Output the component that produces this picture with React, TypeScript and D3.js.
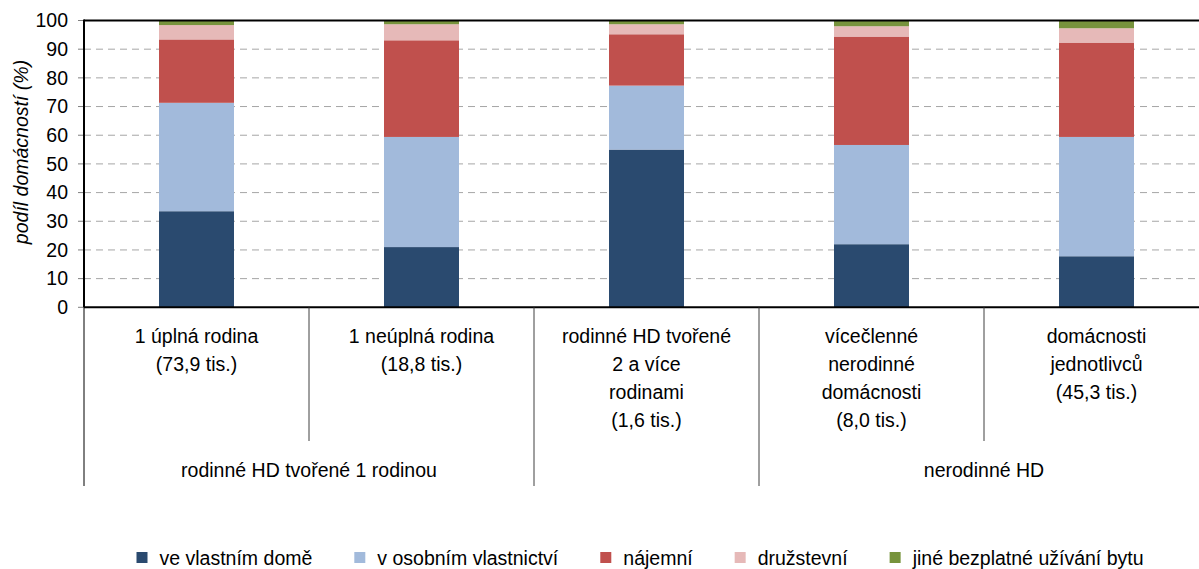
import { useMemo } from "react";
import * as d3 from "d3";

// kategorie domácností (řádky popisku pod osou)
const categories = ["c1", "c2", "c3", "c4", "c5"];
const categoryLabels = [
    ["1 úplná rodina", "(73,9 tis.)"],
    ["1 neúplná rodina", "(18,8 tis.)"],
    ["rodinné HD tvořené", "2 a více", "rodinami", "(1,6 tis.)"],
    ["vícečlenné", "nerodinné", "domácnosti", "(8,0 tis.)"],
    ["domácnosti", "jednotlivců", "(45,3 tis.)"],
];
const groupLabels = ["rodinné HD tvořené 1 rodinou", "", "nerodinné HD"];
const groupMembers = [[0, 1], [2], [3, 4]];

const seriesNames = [
    "ve vlastním domě",
    "v osobním vlastnictví",
    "nájemní",
    "družstevní",
    "jiné bezplatné užívání bytu",
];
const vlastniDum = [33.5, 21.0, 55.0, 22.0, 17.8];
const osobniVlastnictvi = [37.8, 38.4, 22.3, 34.6, 41.6];
const najemni = [22.1, 33.7, 17.9, 37.8, 32.9];
const druzstevni = [5.0, 5.6, 3.5, 3.6, 5.0];
const jine = [1.6, 1.3, 1.3, 2.0, 2.7];

const yTickValues = [0, 10, 20, 30, 40, 50, 60, 70, 80, 90, 100];

const colors = ["#2A4A6F", "#A2BADB", "#C0504D", "#E6B9B8", "#77933C"];
const FONT = "'Liberation Sans', Arial, sans-serif";
const FS = 19.5;

function measure(text, size) {
    const ctx = document.createElement("canvas").getContext("2d");
    ctx.font = `${size}px "Liberation Sans", Arial, sans-serif`;
    return ctx.measureText(text).width;
}

export default function App() {
    const width = 1199;
    const height = 569;

    const left = 84;
    const right = 1209;
    const top = 20.5;
    const bottom = 307.3;

    const rows = categories.map((c, i) => ({
        cat: c,
        s0: vlastniDum[i],
        s1: osobniVlastnictvi[i],
        s2: najemni[i],
        s3: druzstevni[i],
        s4: jine[i],
    }));

    const xScale = useMemo(
        () => d3.scaleBand().domain(categories).range([left, right]).padding(0),
        []
    );
    const yScale = useMemo(() => d3.scaleLinear().domain([0, 100]).range([bottom, top]), []);
    const stacked = useMemo(() => d3.stack().keys(["s0", "s1", "s2", "s3", "s4"])(rows), []);

    const barW = xScale.bandwidth() / 3;

    // legenda – rozložení podle šířky textu
    const legend = useMemo(() => {
        const items = [];
        let x = 136.5;
        seriesNames.forEach((name, i) => {
            items.push({ name, x, color: colors[i] });
            x += 11 + 12 + measure(name, FS) + 42;
        });
        return items;
    }, []);

    // svislé oddělovače pod osou x
    const separators = [];
    groupMembers.forEach((members) => {
        const first = members[0];
        separators.push({ x: xScale(categories[first]), long: true });
        members.slice(1).forEach((m) => separators.push({ x: xScale(categories[m]), long: false }));
    });
    separators.push({ x: right, long: true });

    return (
        <div style={{ position: "absolute", left: 0, top: 0 }}>
            <svg width={width} height={height} style={{ display: "block" }} fontFamily={FONT}>
                <rect width={width} height={height} fill="white" />

                {yTickValues.filter((t) => t > 0 && t < 100).map((t) => (
                    <line key={`g-${t}`} x1={left} x2={right} y1={yScale(t)} y2={yScale(t)}
                        stroke="#A6A6A6" strokeDasharray="7 5" />
                ))}

                {stacked.map((layer, si) => (
                    <g key={layer.key} fill={colors[si]}>
                        {layer.map((d, i) => (
                            <rect key={i}
                                x={xScale(categories[i]) + (xScale.bandwidth() - barW) / 2}
                                y={yScale(d[1])}
                                width={barW}
                                height={yScale(d[0]) - yScale(d[1])} />
                        ))}
                    </g>
                ))}

                {/* osa y */}
                {yTickValues.map((t) => (
                    <g key={`y-${t}`} transform={`translate(0, ${yScale(t)})`}>
                        <line x1={left - 6} x2={left} stroke="#7F7F7F" />
                        <text x={68} dy="0.35em" textAnchor="end" fontSize={FS}>{t}</text>
                    </g>
                ))}
                <line x1={left} x2={right} y1={top} y2={top} stroke="black" strokeWidth="2" />
                <line x1={left} x2={left} y1={top - 1} y2={bottom} stroke="black" strokeWidth="2" />
                <line x1={left} x2={right} y1={bottom} y2={bottom} stroke="black" strokeWidth="2" />

                <text transform="translate(28, 152) rotate(-90)" textAnchor="middle"
                    fontSize={FS} fontStyle="italic">podíl domácností (%)</text>

                {/* kategorie */}
                {separators.map((s, i) => (
                    <line key={`s-${i}`} x1={s.x} x2={s.x} y1={bottom} y2={s.long ? 486 : 441}
                        stroke={s.x === left ? "black" : "#404040"} />
                ))}
                {categoryLabels.map((lines, i) => (
                    <text key={`c-${i}`} textAnchor="middle" fontSize={FS}>
                        {lines.map((ln, j) => (
                            <tspan key={j} x={xScale(categories[i]) + xScale.bandwidth() / 2} y={343 + j * 28}>{ln}</tspan>
                        ))}
                    </text>
                ))}
                {groupLabels.map((g, i) => {
                    const m = groupMembers[i];
                    const x0 = xScale(categories[m[0]]);
                    const x1 = xScale(categories[m[m.length - 1]]) + xScale.bandwidth();
                    return (
                        <text key={`gl-${i}`} x={(x0 + x1) / 2} y={477} textAnchor="middle" fontSize={FS}>{g}</text>
                    );
                })}

                {/* legenda */}
                {legend.map((it) => (
                    <g key={it.name}>
                        <rect x={it.x} y={552} width={11} height={11} fill={it.color} />
                        <text x={it.x + 23} y={565} fontSize={FS}>{it.name}</text>
                    </g>
                ))}
            </svg>
        </div>
    );
}
